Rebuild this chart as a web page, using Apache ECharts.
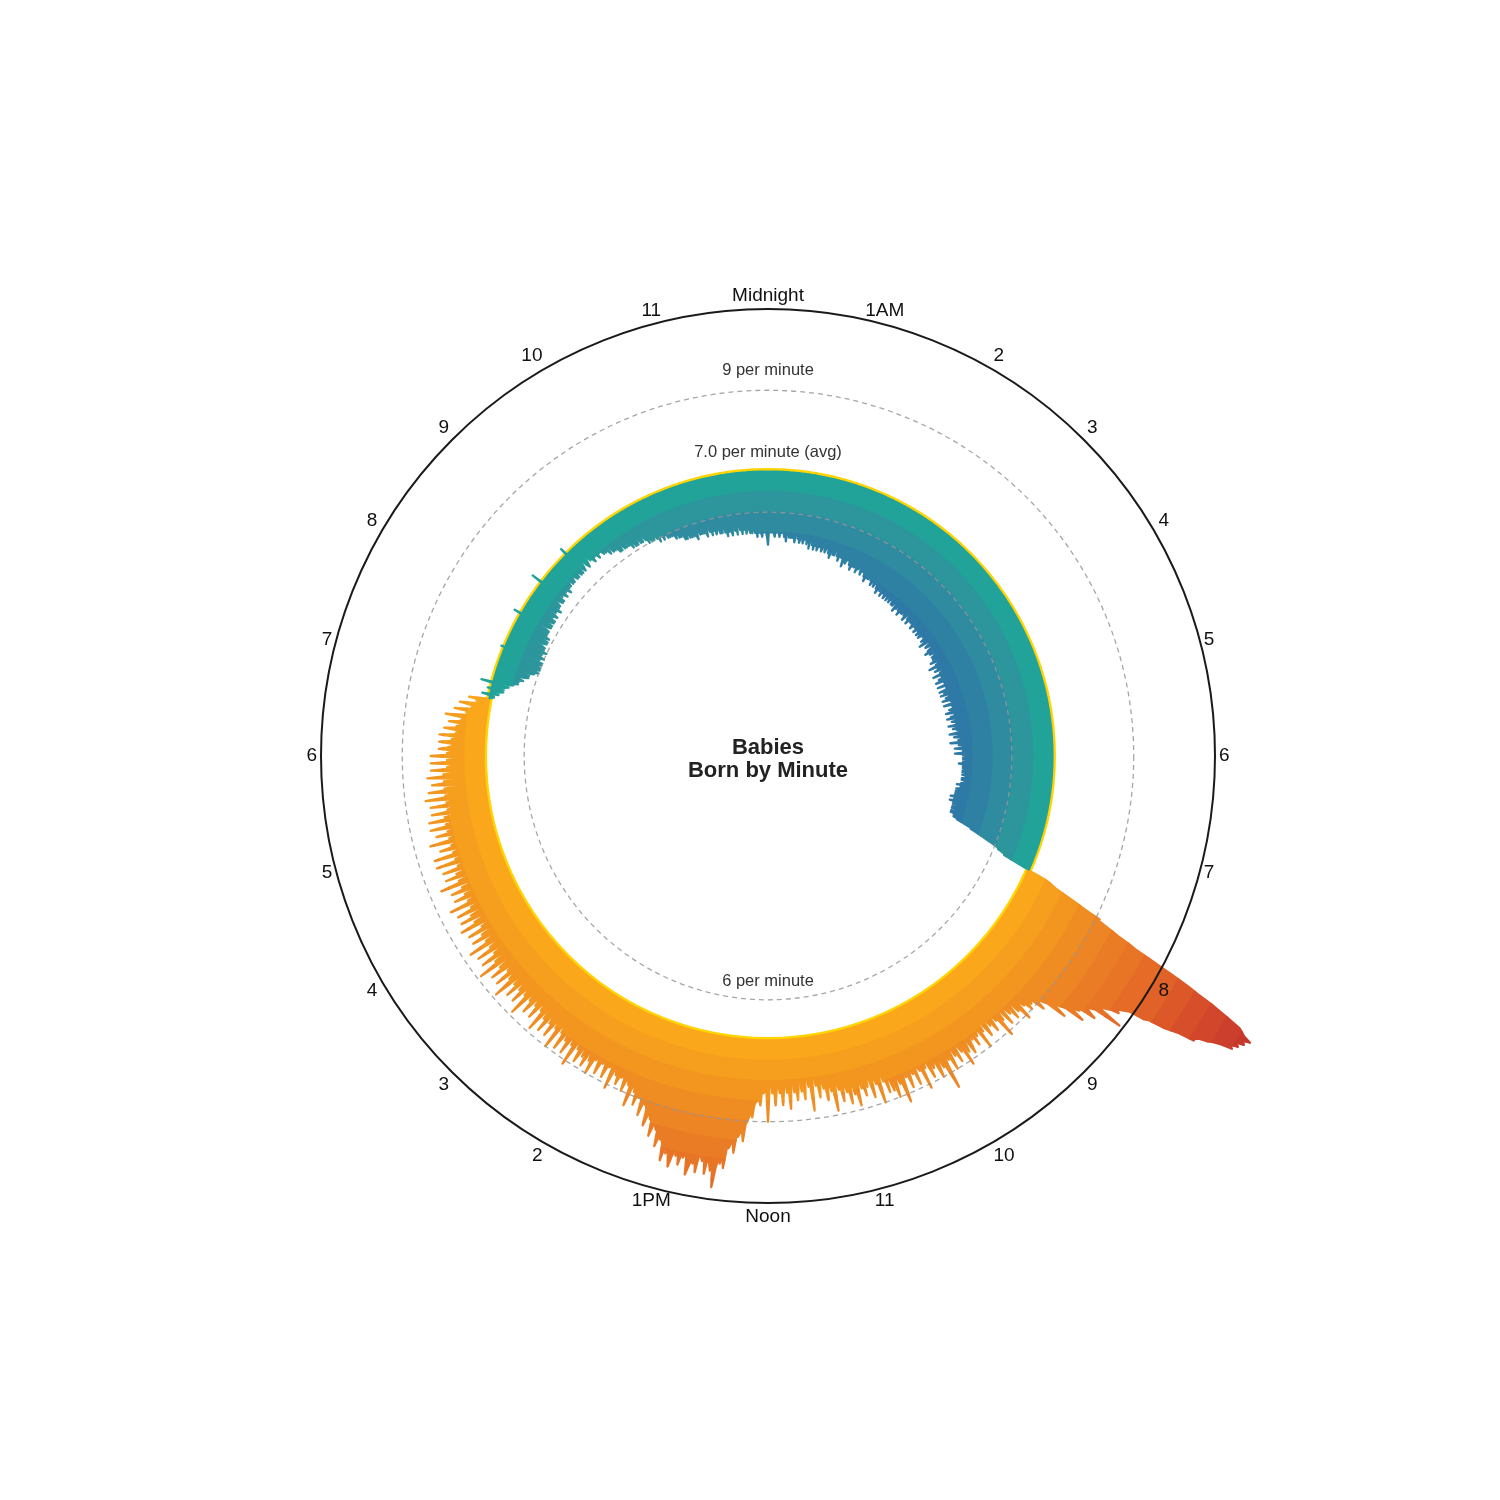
<!DOCTYPE html>
<html>
<head>
<meta charset="utf-8">
<script src="https://cdn.jsdelivr.net/npm/echarts@6/dist/echarts.min.js"></script>
<style>
html,body{margin:0;padding:0;background:#ffffff;}
#chart{width:1500px;height:1500px;}
</style>
</head>
<body>
<div id="chart"></div>
<script>
// ---------- data ----------
const hourLabels = ['Midnight','1AM','2','3','4','5','6','7','8','9','10','11',
                    'Noon','1PM','2','3','4','5','6','7','8','9','10','11'];
const avgPerMinute = 7.0;
const ringTicks = [6, 9];
const bandStep = 0.5;                 // per-minute width of each colour band
const warmMinutes = [455, 1126];      // 7:35 AM .. 6:46 PM drawn in the warm palette
// births per minute, one row per hour (60 values each)
const birthsByHour = [
[5.2,5.6,5.5,5.6,5.5,5.7,5.5,5.4,5.6,5.5,5.7,5.5,5.4,5.6,5.5,5.8,5.5,5.4,5.5,5.3,5.7,5.5,5.4,5.5,5.4,5.6,5.4,5.5,5.3,5.5,5.8,5.4,5.5,5.3,5.4,5.6,5.4,5.3,5.5,5.4,5.6,5.3,5.4,5.5,5.2,5.7,5.4,5.3,5.4,5.2,5.5,5.3,5.4,5.2,5.3,5.5,5.3,5.4,5.2,5.3],
[5.6,5.3,5.2,5.3,5.4,5.4,5.2,5.3,5.1,5.3,5.5,5.2,5.3,5.2,5.4,5.6,5.2,5.3,5.1,5.3,5.4,5.2,5.3,5.2,5.0,5.4,5.2,5.1,5.3,5.2,5.5,5.2,5.1,5.2,5.0,5.3,5.1,5.2,5.1,5.2,5.3,5.0,5.2,5.1,5.2,5.4,5.1,5.0,5.2,5.1,5.3,5.1,5.0,5.1,4.9,5.2,5.0,5.1,5.0,5.1],
[5.3,5.0,5.1,4.9,5.0,5.2,5.0,4.9,5.1,5.0,5.1,4.9,5.0,4.8,5.0,5.2,4.9,5.0,5.0,4.8,5.1,4.9,5.0,4.9,4.8,5.0,4.9,5.0,4.8,4.9,5.2,4.9,4.8,5.0,4.9,5.0,4.8,4.9,4.8,4.9,5.0,4.9,4.7,4.9,4.8,5.1,4.9,4.8,4.9,4.7,5.0,4.8,4.9,4.8,4.9,5.0,4.8,4.9,4.7,4.9],
[5.1,4.9,4.8,4.9,4.7,5.0,4.9,4.8,4.9,4.8,5.0,4.8,4.7,4.9,4.8,5.0,4.8,4.9,4.7,4.8,4.9,4.8,4.9,4.7,4.8,5.0,4.8,4.7,4.9,4.8,5.1,4.8,4.9,4.7,4.8,4.9,4.8,4.6,4.8,4.9,5.0,4.8,4.7,4.8,4.9,5.0,4.8,4.7,4.8,4.6,4.9,4.8,4.7,4.9,4.8,4.9,4.7,4.8,4.9,4.7],
[5.0,4.8,4.6,4.8,4.9,4.9,4.7,4.8,4.5,4.8,4.9,4.7,4.8,4.6,4.8,5.0,4.8,4.7,4.8,4.5,4.9,4.7,4.8,4.8,4.6,4.9,4.8,4.5,4.8,4.7,5.0,4.7,4.8,4.5,4.8,4.9,4.7,4.8,4.7,4.5,4.9,4.8,4.6,4.8,4.5,4.9,4.7,4.8,4.6,4.8,4.9,4.5,4.8,4.7,4.8,4.9,4.7,4.5,4.8,4.7],
[5.0,4.7,4.8,4.6,4.8,4.9,4.7,4.5,4.8,4.7,4.9,4.8,4.6,4.8,4.5,5.0,4.7,4.8,4.6,4.8,4.9,4.7,4.8,4.5,4.8,4.9,4.8,4.6,4.8,4.7,5.0,4.8,4.7,4.5,4.8,4.9,4.8,4.6,4.8,4.8,4.9,4.7,4.8,4.9,4.5,5.0,4.8,4.7,4.8,4.9,4.9,4.6,4.8,4.9,4.8,5.0,4.8,4.6,4.9,4.8],
[5.1,4.9,4.8,4.9,4.8,5.0,4.9,4.8,4.9,4.7,5.0,4.9,4.8,4.9,4.8,5.1,4.9,4.8,4.9,4.8,5.0,4.9,4.8,4.9,4.9,5.0,4.8,4.9,4.8,4.9,5.1,4.9,4.8,4.9,4.7,5.0,4.8,4.9,4.8,4.7,4.9,4.8,4.7,4.8,4.7,5.0,4.7,4.8,4.7,4.6,4.9,4.8,4.7,4.8,4.6,4.9,4.7,4.8,4.7,4.8],
[4.9,4.7,4.8,4.7,4.8,4.9,4.7,4.8,4.7,4.8,4.9,4.8,4.8,4.9,4.9,5.0,5.1,5.2,5.3,5.3,5.4,5.5,5.6,5.7,5.8,5.9,6.0,6.1,6.1,6.2,6.3,6.3,6.5,6.7,6.9,7.1,7.4,7.6,7.7,7.8,8.0,8.2,8.4,8.6,8.8,9.1,9.1,9.3,9.5,9.7,10.0,10.2,10.6,11.0,11.4,11.8,12.1,12.5,12.8,13.1],
[13.4,13.5,13.6,13.8,13.6,13.7,13.5,13.6,13.4,13.5,13.2,13.0,12.9,12.7,12.6,12.6,12.2,12.0,11.8,11.4,11.3,10.9,10.8,10.7,10.6,10.7,10.5,10.4,10.3,10.3,10.9,10.2,10.1,10.0,10.1,10.3,9.9,9.9,9.8,9.7,10.1,9.6,9.5,9.4,9.3,9.7,9.2,9.1,9.0,8.9,9.2,8.9,8.8,8.9,8.7,9.0,8.7,8.8,8.6,8.7],
[9.1,8.5,8.8,8.4,8.6,8.9,8.3,8.7,8.5,8.4,8.9,8.5,8.3,8.7,8.4,9.1,8.4,8.6,8.3,8.5,8.8,8.3,8.6,8.2,8.5,8.8,8.4,8.2,8.6,8.3,9.0,8.2,8.5,8.6,8.3,8.8,8.3,8.6,8.4,8.7,8.9,8.3,8.6,8.8,8.4,9.1,8.4,8.7,8.5,8.3,8.9,8.4,8.7,8.3,8.6,9.0,8.4,8.7,8.5,8.8],
[9.4,8.5,8.8,8.4,8.7,9.0,8.4,8.6,8.7,8.3,8.9,8.5,8.3,8.6,8.2,9.1,8.4,8.6,8.5,8.3,8.9,8.3,8.6,8.4,8.6,8.9,8.3,8.6,8.4,8.7,9.2,8.5,8.7,8.4,8.6,9.0,8.4,8.8,8.5,8.3,8.8,8.3,8.5,8.2,8.4,9.0,8.3,8.5,8.2,8.4,8.8,8.3,8.2,8.5,8.1,8.7,8.3,8.5,8.2,8.4],
[8.9,8.4,8.6,8.2,8.4,8.8,8.2,8.5,8.1,8.4,8.7,8.2,8.4,8.1,8.3,8.9,8.2,8.4,8.1,8.3,8.6,8.1,8.3,8.0,8.2,8.5,8.0,8.2,7.9,8.1,8.8,8.0,8.2,7.9,8.1,8.5,8.0,8.3,7.9,8.2,8.5,8.1,8.3,8.0,8.2,8.7,8.1,8.3,8.0,8.2,8.6,8.1,8.3,8.0,8.2,8.6,8.1,8.3,8.0,8.2],
[9.0,8.3,8.2,8.3,8.2,8.6,8.4,8.5,8.5,8.6,8.9,8.7,8.9,9.0,9.1,9.5,9.2,9.3,9.4,9.4,9.8,9.5,9.6,9.7,9.7,10.2,9.9,10.1,10.0,10.2,10.7,10.2,10.3,10.1,10.0,10.4,10.0,10.1,10.0,9.9,10.4,10.1,10.2,10.1,10.3,10.5,10.1,10.0,10.1,10.0,10.3,10.0,10.1,10.0,10.1,10.4,10.2,10.0,10.1,9.9],
[10.3,9.9,9.8,9.8,9.7,10.0,9.6,9.6,9.5,9.5,9.8,9.4,9.4,9.3,9.3,9.6,9.2,9.1,9.1,9.0,9.4,9.0,8.9,9.0,8.8,9.2,8.8,8.9,8.7,8.8,9.3,8.7,8.8,8.7,8.6,9.0,8.7,8.6,8.7,8.6,8.9,8.6,8.7,8.6,8.5,9.1,8.6,8.5,8.6,8.5,8.9,8.6,8.5,8.6,8.5,8.9,8.6,8.5,8.6,8.5],
[9.0,8.5,8.7,8.4,8.6,8.9,8.4,8.7,8.3,8.6,8.9,8.4,8.6,8.3,8.5,9.1,8.4,8.6,8.3,8.5,8.9,8.3,8.6,8.2,8.5,8.9,8.3,8.5,8.2,8.4,9.0,8.3,8.5,8.2,8.4,8.8,8.2,8.5,8.1,8.4,8.8,8.2,8.5,8.1,8.4,8.9,8.2,8.4,8.1,8.3,8.7,8.2,8.4,8.1,8.3,8.7,8.2,8.4,8.1,8.3],
[8.9,8.2,8.4,8.1,8.3,8.7,8.2,8.4,8.0,8.3,8.7,8.1,8.4,8.0,8.3,8.9,8.2,8.4,8.1,8.3,8.7,8.1,8.3,8.0,8.3,8.7,8.1,8.4,8.0,8.2,8.9,8.2,8.4,8.0,8.3,8.7,8.1,8.3,8.0,8.2,8.7,8.1,8.3,7.9,8.2,8.8,8.1,8.3,7.9,8.2,8.6,8.0,8.3,7.9,8.1,8.6,8.0,8.2,7.9,8.1],
[8.7,8.1,8.3,7.9,8.1,8.6,8.0,8.3,7.9,8.1,8.6,8.0,8.2,7.9,8.1,8.7,8.0,8.2,7.9,8.1,8.5,8.0,8.2,7.8,8.1,8.5,7.9,8.2,7.8,8.0,8.7,8.0,8.2,7.8,8.0,8.5,7.9,8.2,7.8,8.0,8.5,7.9,8.1,7.8,8.0,8.6,7.9,8.1,7.8,8.0,8.6,7.9,8.1,7.8,8.0,8.4,7.9,8.1,7.8,8.0],
[8.6,7.9,8.1,7.8,8.0,8.4,7.9,8.1,7.8,8.0,8.5,7.9,8.1,7.7,8.0,8.5,7.8,8.1,7.7,7.9,8.4,7.8,8.0,7.7,7.9,8.4,7.8,8.0,7.7,7.9,8.5,7.8,8.0,7.7,7.9,8.4,7.8,8.0,7.6,7.9,8.3,7.8,8.0,7.6,7.9,8.4,7.8,8.0,7.6,7.8,8.3,7.7,7.9,7.6,7.8,8.3,7.7,7.9,7.6,7.8],
[8.3,7.8,7.9,7.8,7.7,8.1,7.9,7.8,7.7,7.8,8.1,7.7,7.8,7.7,7.6,8.1,7.7,7.7,7.6,7.7,8.0,7.6,7.7,7.6,7.5,7.9,7.6,7.6,7.5,7.6,8.0,7.5,7.4,7.5,7.4,7.8,7.4,7.4,7.3,7.4,7.7,7.3,7.2,7.3,7.2,7.5,7.1,7.0,6.9,6.9,7.2,6.8,6.9,6.8,6.7,7.1,6.7,6.8,6.7,6.6],
[7.3,6.6,6.5,6.6,6.4,6.7,6.4,6.5,6.3,6.4,6.7,6.3,6.2,6.3,6.2,6.7,6.2,6.1,6.2,6.0,6.4,6.1,6.0,6.1,6.0,6.4,6.1,6.0,6.1,6.0,7.1,6.1,6.2,6.0,6.1,6.5,6.1,6.2,6.1,6.0,6.5,6.1,6.2,6.1,6.2,6.8,6.2,6.1,6.2,6.1,6.5,6.2,6.1,6.3,6.2,6.6,6.2,6.3,6.2,6.3],
[7.2,6.3,6.2,6.3,6.2,6.6,6.3,6.2,6.3,6.2,6.6,6.3,6.4,6.2,6.3,7.0,6.3,6.4,6.3,6.2,6.7,6.3,6.4,6.3,6.4,6.7,6.4,6.3,6.4,6.3,7.3,6.4,6.5,6.4,6.3,6.8,6.4,6.5,6.4,6.3,6.8,6.4,6.5,6.4,6.5,7.0,6.4,6.5,6.4,6.5,6.8,6.5,6.4,6.5,6.4,6.8,6.5,6.4,6.5,6.4],
[7.2,6.5,6.4,6.5,6.6,6.8,6.5,6.4,6.5,6.6,6.8,6.5,6.6,6.5,6.4,6.9,6.5,6.6,6.5,6.4,6.8,6.5,6.6,6.5,6.4,6.7,6.4,6.5,6.4,6.3,7.0,6.4,6.3,6.4,6.3,6.6,6.3,6.2,6.3,6.2,6.6,6.3,6.2,6.3,6.2,6.7,6.2,6.3,6.2,6.1,6.5,6.2,6.1,6.2,6.1,6.5,6.2,6.1,6.2,6.1],
[6.6,6.2,6.1,6.2,6.0,6.4,6.1,6.0,6.1,6.0,6.3,6.1,6.0,6.1,5.9,6.4,6.0,6.1,5.9,6.0,6.3,6.0,5.9,6.0,5.9,6.2,5.9,6.0,5.9,5.8,6.3,5.9,5.8,5.9,5.8,6.1,5.8,5.7,5.8,5.7,6.0,5.8,5.7,5.8,5.7,6.1,5.7,5.8,5.7,5.6,6.0,5.8,5.7,5.8,5.7,6.0,5.7,5.8,5.7,5.6],
[6.1,5.8,5.7,5.8,5.6,5.9,5.7,5.8,5.6,5.7,5.9,5.7,5.6,5.7,5.6,6.0,5.7,5.6,5.7,5.5,5.9,5.6,5.7,5.6,5.5,5.8,5.7,5.6,5.7,5.5,6.0,5.7,5.6,5.7,5.5,5.8,5.6,5.7,5.5,5.6,5.8,5.6,5.5,5.6,5.5,5.9,5.6,5.5,5.6,5.4,5.8,5.5,5.6,5.5,5.4,5.7,5.5,5.6,5.5,5.4]
];

// ---------- styles ----------
const FONT = '"Liberation Sans", Arial, Helvetica, sans-serif';
const warmColors = ['#FBA71B','#F69F1E','#F29620','#EF8D22','#ED8524','#EA7C25','#E87426','#E56B27','#E16228','#DC5829','#D74F2A','#D2472B','#CC3F2C','#C6382C','#C0312D'];
const coolColors = ['#22A39A','#2C969C','#2F8BA0','#2F81A4','#2E79A6','#2D71A6'];

// ---------- build band regions ----------
const births = [].concat(...birthsByHour);

function bandRuns(seq, base, far) {
  const lo = Math.min(base, far), hi = Math.max(base, far);
  const clamp = v => Math.min(hi, Math.max(lo, v));
  const pts = [];
  for (let i = 0; i < seq.length; i++) {
    const a = seq[i][0], v = seq[i][1];
    pts.push([a, clamp(v)]);
    if (i + 1 < seq.length) {
      const a2 = seq[i + 1][0], v2 = seq[i + 1][1];
      const ts = [];
      [lo, hi].forEach(L => { if ((v - L) * (v2 - L) < 0) ts.push((L - v) / (v2 - v)); });
      ts.sort((x, y) => x - y).forEach(t => pts.push([a + t * (a2 - a), clamp(v + t * (v2 - v))]));
    }
  }
  const runs = [];
  let cur = null;
  for (let i = 0; i < pts.length; i++) {
    const active = Math.abs(pts[i][1] - base) > 1e-9;
    if (active) {
      if (!cur) { cur = []; if (i > 0) cur.push(pts[i - 1]); }
      cur.push(pts[i]);
    } else if (cur) {
      cur.push(pts[i]); runs.push(cur); cur = null;
    }
  }
  if (cur) runs.push(cur);
  return runs;
}

const regions = [];
function addPalette(from, to, colors) {
  const seq = [];
  for (let m = from; m <= to; m++) seq.push([m, births[m % 1440]]);
  colors.forEach((color, k) => {
    const last = k === colors.length - 1;
    const pairs = [
      [avgPerMinute + k * bandStep, last ? 1e6 : avgPerMinute + (k + 1) * bandStep],
      [avgPerMinute - k * bandStep, last ? -1e6 : avgPerMinute - (k + 1) * bandStep]
    ];
    pairs.forEach(([base, far]) => {
      bandRuns(seq, base, far).forEach(p => regions.push({ color, base, pts: p }));
    });
  });
}
addPalette(warmMinutes[0], warmMinutes[1], warmColors);
addPalette(warmMinutes[1] + 1, 1440 + warmMinutes[0] - 1, coolColors);

// ---------- chart ----------
const chart = echarts.init(document.getElementById('chart'), null, { renderer: 'canvas' });

const option = {
  animation: false,
  backgroundColor: '#ffffff',
  polar: { center: [768, 756], radius: 447 },
  angleAxis: {
    type: 'value', min: 0, max: 1440, interval: 60,
    startAngle: 90, clockwise: true, z: 10,
    axisLine: { show: true, lineStyle: { color: '#1a1a1a', width: 2 } },
    axisTick: { show: false },
    splitLine: { show: false },
    axisLabel: {
      margin: 4, fontSize: 19, color: '#111', fontFamily: FONT,
      formatter: v => hourLabels[Math.round(v / 60)] || ''
    }
  },
  radiusAxis: {
    type: 'value', min: 0, max: 11,
    axisLine: { show: false }, axisTick: { show: false },
    axisLabel: { show: false }, splitLine: { show: false }
  },
  series: [
    { // average ring (under the fills)
      type: 'custom', coordinateSystem: 'polar', z: 1, silent: true,
      data: [[avgPerMinute, 0]],
      renderItem: (params, api) => {
        const cs = params.coordSys;
        const r = api.coord([avgPerMinute, 0])[2];
        return { type: 'circle', shape: { cx: cs.cx, cy: cs.cy, r: r },
                 style: { fill: 'none', stroke: '#FFD400', lineWidth: 7 } };
      }
    },
    { // colour bands
      type: 'custom', coordinateSystem: 'polar', z: 2, silent: true, progressive: 0,
      data: regions.map(() => [avgPerMinute, 0]),
      renderItem: (params, api) => {
        const reg = regions[params.dataIndex];
        const outer = reg.pts.map(p => api.coord([p[1], p[0] % 1440]).slice(0, 2));
        const inner = reg.pts.slice().reverse().map(p => api.coord([reg.base, p[0] % 1440]).slice(0, 2));
        return { type: 'polygon', shape: { points: outer.concat(inner) },
                 style: { fill: reg.color, stroke: reg.color, lineWidth: 2.3, lineJoin: 'round' } };
      }
    },
    { // reference rings, labels and centre title
      type: 'custom', coordinateSystem: 'polar', z: 3, silent: true,
      data: [[avgPerMinute, 0]],
      renderItem: (params, api) => {
        const cs = params.coordSys;
        const children = [];
        ringTicks.forEach(t => {
          const r = api.coord([t, 0])[2];
          children.push({ type: 'circle', shape: { cx: cs.cx, cy: cs.cy, r: r },
            style: { fill: 'none', stroke: 'rgba(150,150,150,0.85)', lineWidth: 1.3, lineDash: [5, 4] } });
        });
        const lbl = (text, pos, dy) => ({
          type: 'text', x: pos[0], y: pos[1] + dy,
          style: { text: text, fontSize: 16.5, fill: '#333', fontFamily: FONT, align: 'center', verticalAlign: 'middle' }
        });
        const hi = Math.max(...ringTicks), lo = Math.min(...ringTicks);
        children.push(lbl(hi + ' per minute', api.coord([hi, 0]), -20));
        children.push(lbl(avgPerMinute.toFixed(1) + ' per minute (avg)', api.coord([avgPerMinute, 0]), -19));
        children.push(lbl(lo + ' per minute', api.coord([lo, 720]), -18));
        children.push({ type: 'text', x: cs.cx, y: cs.cy + 3,
          style: { text: 'Babies\nBorn by Minute', fontSize: 22, fontWeight: 'bold', fill: '#222',
                   fontFamily: FONT, align: 'center', verticalAlign: 'middle', lineHeight: 23 } });
        return { type: 'group', children: children };
      }
    }
  ]
};
chart.setOption(option);
</script>
</body>
</html>
